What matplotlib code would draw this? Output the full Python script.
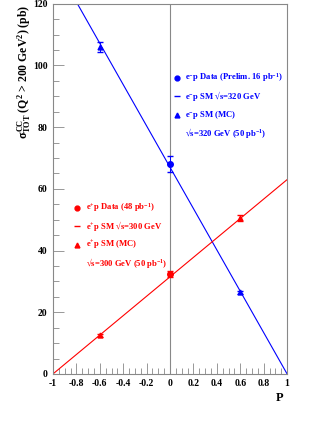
import matplotlib.pyplot as plt
import numpy as np

plt.rcParams['font.family'] = ['Liberation Serif', 'DejaVu Serif']
plt.rcParams['mathtext.fontset'] = 'custom'
plt.rcParams['mathtext.rm'] = 'Liberation Serif:bold'
plt.rcParams['mathtext.it'] = 'Liberation Serif:bold'
plt.rcParams['mathtext.bf'] = 'Liberation Serif:bold'

# SM predictions (linear in polarisation P)
sm_pol = [-1, 1]
em_sm = [134.0, 0.0]   # e-p, sqrt(s)=320 GeV
ep_sm = [0.0, 63.0]    # e+p, sqrt(s)=300 GeV

# MC points (triangles)
mc_pol = [-0.6, 0.6]
em_mc = [106.0, 26.5]
em_mc_err = [1.5, 0.5]
ep_mc = [12.5, 50.5]
ep_mc_err = [0.5, 1.0]

# data points
em_data_pol = [0.0]
em_data = [68.0]
em_data_err = [2.6]
ep_data_pol = [0.0]
ep_data = [32.3]
ep_data_err = [1.0]

blue = '#0000ff'
red = '#ff0000'

fig = plt.figure(figsize=(3.27, 4.23), dpi=100)
ax = fig.add_axes([0.162, 0.116, 0.716, 0.875])

ax.plot(sm_pol, em_sm, color=blue, lw=0.8)
ax.plot(sm_pol, ep_sm, color=red, lw=0.8)

ax.errorbar(mc_pol, em_mc, yerr=em_mc_err, fmt='^', color=blue, ms=3.5, capsize=2, elinewidth=0.7)
ax.errorbar(mc_pol, ep_mc, yerr=ep_mc_err, fmt='^', color=red, ms=3.5, capsize=2, elinewidth=0.7)
ax.errorbar(em_data_pol, em_data, yerr=em_data_err, fmt='o', color=blue, ms=4, capsize=2, elinewidth=0.7)
ax.errorbar(ep_data_pol, ep_data, yerr=ep_data_err, fmt='o', color=red, ms=4, capsize=2, elinewidth=0.7)

ax.axvline(0, color='#888888', lw=0.8, zorder=0)

ax.set_xlim(-1, 1)
ax.set_ylim(0, 120)
ax.set_xticks(np.arange(-1, 1.01, 0.2))
ax.set_xticklabels(['-1', '-0.8', '-0.6', '-0.4', '-0.2', '0', '0.2', '0.4', '0.6', '0.8', '1'])
ax.set_xticks(np.arange(-1, 1.01, 0.05), minor=True)
ax.set_yticks(np.arange(0, 121, 20))
ax.set_yticks(np.arange(0, 121, 5), minor=True)
ax.tick_params(direction='in', which='major', length=8, width=0.6, color='#888888', labelsize=7, pad=4)
ax.tick_params(direction='in', which='minor', length=4, width=0.6, color='#888888')
for lab in ax.get_xticklabels() + ax.get_yticklabels():
    lab.set_fontweight('bold')
for s in ax.spines.values():
    s.set_color('#888888')
    s.set_linewidth(0.8)

ax.set_xlabel('P', fontsize=9, fontweight='bold')
ax.xaxis.set_label_coords(0.97, -0.05)
ax.set_ylabel(r'$\sigma^{CC}_{TOT}$ (Q$^2$ > 200 GeV$^2$) (pb)', fontsize=8.5, fontweight='bold')
ax.yaxis.set_label_coords(-0.085, 0.815)

# legends drawn as text
fs = 6.2
bx, tx = 0.06, 0.125
ax.plot([bx], [96.0], 'o', color=blue, ms=3.5)
ax.text(tx, 96.0, r'e$^{-}$p Data (Prelim. 16 pb$^{-1}$)', color=blue, fontsize=fs, fontweight='bold', va='center')
ax.plot([bx], [90.0], '_', color=blue, ms=5)
ax.text(tx, 90.0, 'e$^{-}$p SM \u221as=320 GeV', color=blue, fontsize=fs, fontweight='bold', va='center')
ax.plot([bx], [84.0], '^', color=blue, ms=3.5)
ax.text(tx, 84.0, r'e$^{-}$p SM (MC)', color=blue, fontsize=fs, fontweight='bold', va='center')
ax.text(tx, 78.0, '\u221as=320 GeV (50 pb$^{-1}$)', color=blue, fontsize=fs, fontweight='bold', va='center')

rx, rtx = -0.795, -0.72
ax.plot([rx], [53.8], 'o', color=red, ms=3.5)
ax.text(rtx, 53.8, r'e$^{+}$p Data (48 pb$^{-1}$)', color=red, fontsize=fs, fontweight='bold', va='center')
ax.plot([rx], [48.0], '_', color=red, ms=5)
ax.text(rtx, 48.0, 'e$^{+}$p SM \u221as=300 GeV', color=red, fontsize=fs, fontweight='bold', va='center')
ax.plot([rx], [41.8], '^', color=red, ms=3.5)
ax.text(rtx, 41.8, r'e$^{+}$p SM (MC)', color=red, fontsize=fs, fontweight='bold', va='center')
ax.text(rtx, 36.0, '\u221as=300 GeV (50 pb$^{-1}$)', color=red, fontsize=fs, fontweight='bold', va='center')

fig.savefig('out.png', dpi=100)
